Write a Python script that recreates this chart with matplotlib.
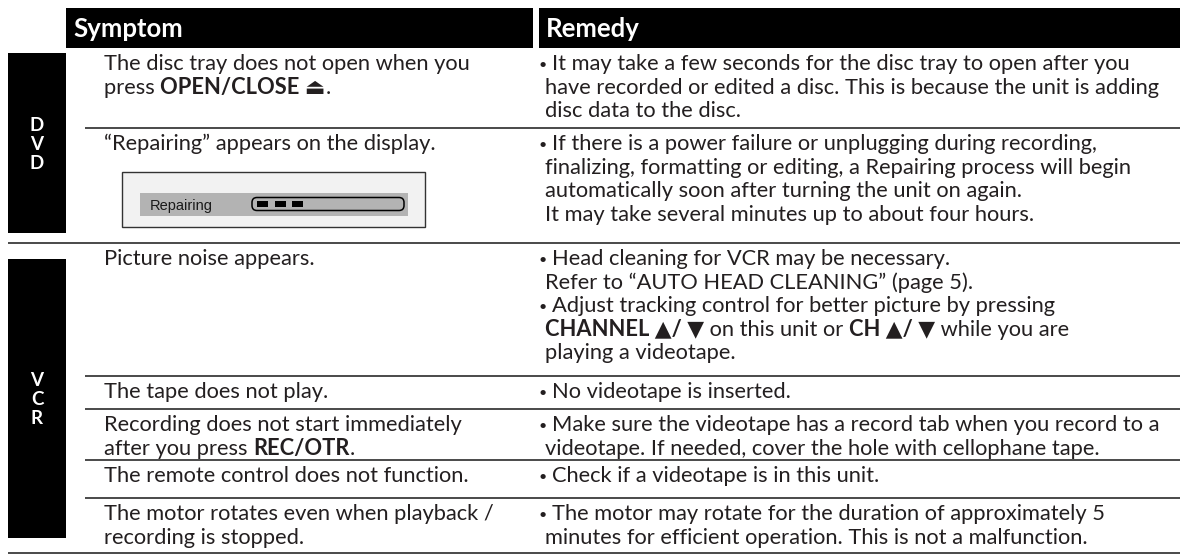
import matplotlib
matplotlib.use('Agg')
import matplotlib.pyplot as plt
from matplotlib.font_manager import FontProperties
from matplotlib.patches import Rectangle, FancyBboxPatch

FAMILY = ['Lato', 'DejaVu Sans']
plt.rcParams['font.family'] = FAMILY

# table content
col_titles = ['Symptom', 'Remedy']
sections = ['DVD', 'VCR']
section_rows = [2, 5]   # number of rows in each section

symptoms = [
    [[('The disc tray does not open when you', False)],
     [('press ', False), ('OPEN/CLOSE \u23cf', True), ('.', False)]],
    [[('\u201cRepairing\u201d appears on the display.', False)]],
    [[('Picture noise appears.', False)]],
    [[('The tape does not play.', False)]],
    [[('Recording does not start immediately', False)],
     [('after you press ', False), ('REC/OTR', True), ('.', False)]],
    [[('The remote control does not function.', False)]],
    [[('The motor rotates even when playback /', False)],
     [('recording is stopped.', False)]],
]

remedies = [
    [['It may take a few seconds for the disc tray to open after you',
      'have recorded or edited a disc. This is because the unit is adding',
      'disc data to the disc.']],
    [['If there is a power failure or unplugging during recording,',
      'finalizing, formatting or editing, a Repairing process will begin',
      'automatically soon after turning the unit on again.',
      'It may take several minutes up to about four hours.']],
    [['Head cleaning for VCR may be necessary.',
      'Refer to \u201cAUTO HEAD CLEANING\u201d (page 5).'],
     ['Adjust tracking control for better picture by pressing',
      [('CHANNEL \u25b2/ \u25bc', True), (' on this unit or ', False),
       ('CH \u25b2/ \u25bc', True), (' while you are', False)],
      'playing a videotape.']],
    [['No videotape is inserted.']],
    [['Make sure the videotape has a record tab when you record to a',
      'videotape. If needed, cover the hole with cellophane tape.']],
    [['Check if a videotape is in this unit.']],
    [['The motor may rotate for the duration of approximately 5',
      'minutes for efficient operation. This is not a malfunction.']],
]

display_label = 'Repairing'
display_blocks = 3

# layout (pixels)
W, H = 1180, 556
INK = '#231f20'
RULE = '#3c3c3c'
row_bottoms = [128, 243, 376, 409, 460, 498, 553]
header_top, header_bot = 8, 48
line_h = 23.5

fig = plt.figure(figsize=(W / 100, H / 100), dpi=100)
ax = fig.add_axes([0, 0, 1, 1])
ax.set_xlim(0, W)
ax.set_ylim(H, 0)
ax.axis('off')
renderer = fig.canvas.get_renderer()


def text_width(s, size, bold=False, family=FAMILY):
    prop = FontProperties(family=family, size=size, weight='bold' if bold else 'normal')
    w, _, _ = renderer.get_text_width_height_descent(s + '|', prop, ismath=False)
    wb, _, _ = renderer.get_text_width_height_descent('|', prop, ismath=False)
    return w - wb


def draw_runs(x, y, runs, size):
    if isinstance(runs, str):
        runs = [(runs, False)]
    for s, bold in runs:
        ax.text(x, y, s, fontsize=size, fontweight='bold' if bold else 'normal',
                ha='left', va='baseline', color=INK)
        x += text_width(s, size, bold)


# body size fitted to a few measured line widths of the reference
fit_lines = [(symptoms[0][0][0][0], 354), (remedies[0][0][0], 579), (remedies[0][0][1], 631)]
body = 10 * sum(t for _, t in fit_lines) / sum(text_width(s, 10) for s, _ in fit_lines)
body_px = body * 100 / 72
head = 10 * 110 / text_width('Symptom', 10, True)
head_px = head * 100 / 72

# header bars
ax.add_patch(Rectangle((66, header_top), 533 - 66, header_bot - header_top, color='black', lw=0))
ax.add_patch(Rectangle((539, header_top), W - 539, header_bot - header_top, color='black', lw=0))
hy = (header_top + header_bot) / 2 + 0.36 * head_px
ax.text(73, hy, col_titles[0], fontsize=head, fontweight='bold', color='white', va='baseline')
ax.text(546, hy, col_titles[1], fontsize=head, fontweight='bold', color='white', va='baseline')

# rows
row_tops = [header_bot] + row_bottoms[:-1]
for i in range(len(symptoms)):
    top = row_tops[i]
    base = top + 15 + 0.33 * body_px
    for k, line in enumerate(symptoms[i]):
        draw_runs(104, base + k * line_h, line, body)
    k = 0
    for bullet in remedies[i]:
        for j, line in enumerate(bullet):
            if j == 0:
                ax.text(539, base + k * line_h - 1, '\u2022', fontsize=body * 0.65, color=INK, va='baseline')
                draw_runs(552, base + k * line_h, line, body)
            else:
                draw_runs(545, base + k * line_h, line, body)
            k += 1

# rules
sec_end = set()
n = 0
for c in section_rows:
    n += c
    sec_end.add(n - 1)
for i, yb in enumerate(row_bottoms):
    x0 = 8 if i in sec_end else 85
    ax.plot([x0, W], [yb, yb], color=RULE, lw=1.3, solid_capstyle='butt')

# section blocks
blocks = [(53, 233), (259, 538)]
for label, (y0, y1) in zip(sections, blocks):
    ax.add_patch(Rectangle((8, y0), 58, y1 - y0, color='black', lw=0))
    step = 19
    mid = (y0 + y1) / 2
    for j, ch in enumerate(label):
        cy = mid + (j - (len(label) - 1) / 2) * step
        ax.text(37, cy + 0.36 * 13.5 * 100 / 72, ch, fontsize=13.5, fontweight='bold',
                color='white', ha='center', va='baseline')

# "Repairing" display picture
ax.add_patch(Rectangle((122, 172), 303, 55, facecolor='#f2f2f2', edgecolor='#333333', lw=1.0))
ax.add_patch(Rectangle((140, 193), 268, 23, facecolor='#b3b3b3', lw=0))
lab_size = 10 * 63 / text_width(display_label, 10, family=['Liberation Sans'])
ax.text(150, 204.5 + 0.36 * lab_size * 100 / 72, display_label, fontsize=lab_size,
        family=['Liberation Sans'], color='#1a1a1a', va='baseline')
ax.add_patch(FancyBboxPatch((252, 197.5), 152, 13, boxstyle='round,pad=0,rounding_size=5',
                            facecolor='#b3b3b3', edgecolor='black', lw=1.1))
for b in range(display_blocks):
    ax.add_patch(Rectangle((257 + b * 17.5, 201), 11, 6, color='black', lw=0))

fig.savefig('out.png', dpi=100)
